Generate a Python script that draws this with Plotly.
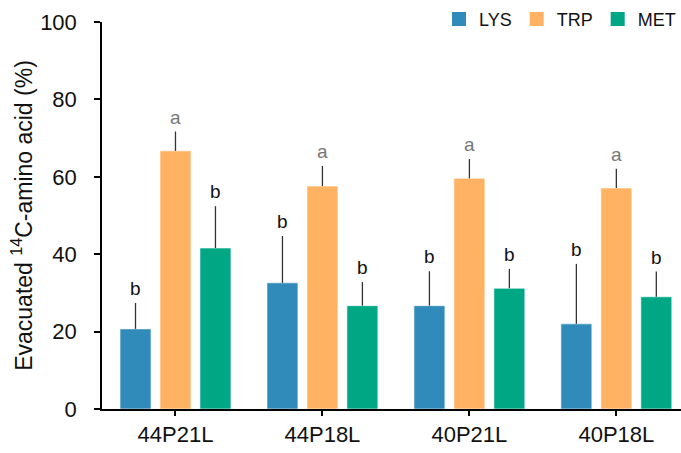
import plotly.graph_objects as go

categories = ["44P21L", "44P18L", "40P21L", "40P18L"]
series = ["LYS", "TRP", "MET"]
lys = [20.7, 32.6, 26.7, 22.0]
trp = [66.7, 57.6, 59.6, 57.1]
met = [41.6, 26.7, 31.2, 29.0]
lys_err = [6.7, 12.1, 8.9, 15.5]
trp_err = [5.0, 5.2, 5.0, 5.0]
met_err = [10.8, 6.1, 5.0, 6.5]
lys_sig = ["b", "b", "b", "b"]
trp_sig = ["a", "a", "a", "a"]
met_sig = ["b", "b", "b", "b"]

colors = ["#318BBA", "#FEB262", "#00A785"]
values = [lys, trp, met]
errors = [lys_err, trp_err, met_err]
sigs = [lys_sig, trp_sig, met_sig]
sig_colors = {"a": "#777777", "b": "#111111"}
FONT = "Liberation Sans, Arial, sans-serif"

fig = go.Figure()
for name, v, e, c in zip(series, values, errors, colors):
    fig.add_trace(go.Bar(
        name=name, x=categories, y=v, showlegend=False,
        marker=dict(color=c, line=dict(color="rgba(255,255,255,0.6)", width=1)),
        error_y=dict(type="data", array=e, arrayminus=[0]*len(e), symmetric=False,
                     color="#333333", thickness=1.3, width=0),
    ))
# legend entries
for name, c in zip(series, colors):
    fig.add_trace(go.Scatter(name=name, x=[None], y=[None], mode="markers",
                             marker=dict(symbol="square", size=14, color=c), showlegend=True))

shifts = [-40, 0, 40]
for si, (v, e, s) in enumerate(zip(values, errors, sigs)):
    for ci, cat in enumerate(categories):
        fig.add_annotation(x=cat, y=v[ci] + e[ci], text=s[ci], showarrow=False,
                           xshift=shifts[si], yshift=2, yanchor="bottom",
                           font=dict(size=19, color=sig_colors[s[ci]], family=FONT))

fig.update_layout(
    width=681, height=453,
    margin=dict(l=102, r=0, t=22, b=44),
    paper_bgcolor="white", plot_bgcolor="white",
    barmode="group", bargap=0.184, bargroupgap=0.225,
    font=dict(family=FONT, color="#111111"),
    showlegend=True,
    legend=dict(orientation="h", x=1.0, xanchor="right", y=1.055, yanchor="top",
                font=dict(size=18, color="#111111"), itemwidth=30, traceorder="normal",
                bgcolor="rgba(0,0,0,0)", tracegroupgap=0),
    xaxis=dict(range=[-0.5, 3.44], showline=True, linecolor="black", linewidth=1.5,
               ticks="outside", ticklen=5, tickcolor="black", tickwidth=1.5,
               tickfont=dict(size=22, color="#111111"), showgrid=False),
    yaxis=dict(range=[0, 100], dtick=20, showline=True, linecolor="black", linewidth=1.5,
               ticks="outside", ticklen=6, tickcolor="black", tickwidth=1.5,
               tickfont=dict(size=22, color="#111111"), showgrid=False, zeroline=False,
               ticklabelstandoff=13,
               title=dict(text="Evacuated <sup>14</sup>C-amino acid (%)", font=dict(size=23, color="#111111"), standoff=1)),
)

fig.write_html("out.html", config={"displayModeBar": False},
               post_script="document.body.style.margin='0';")
